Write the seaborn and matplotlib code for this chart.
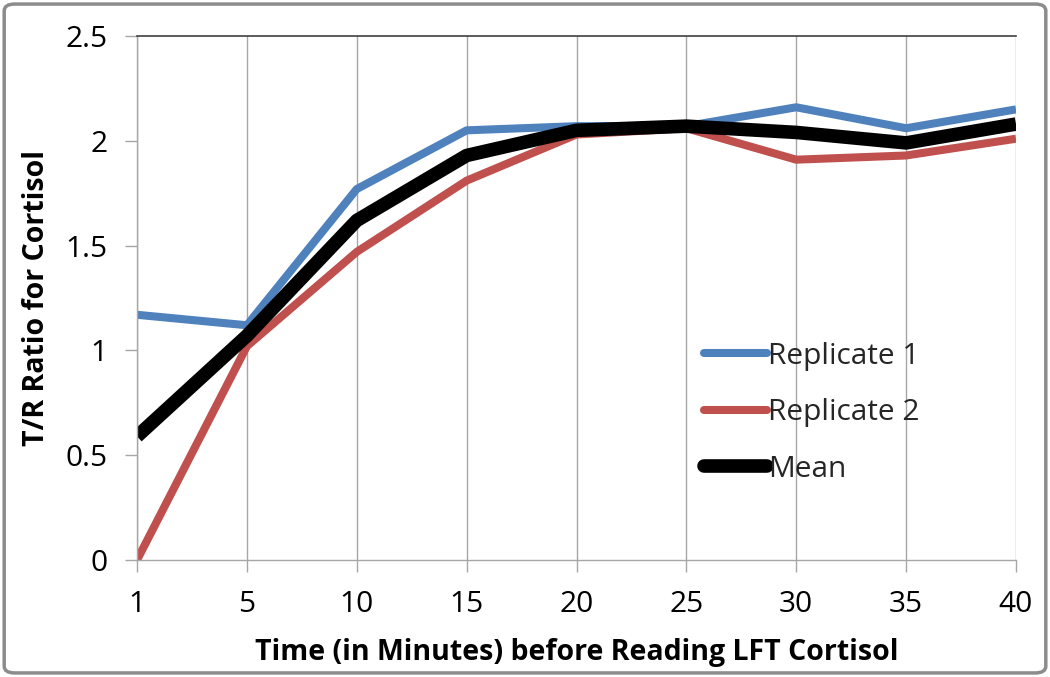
import pandas as pd
import matplotlib
matplotlib.use('Agg')
import matplotlib.pyplot as plt
import seaborn as sns
from matplotlib.patches import FancyBboxPatch

# values
times = ['1', '5', '10', '15', '20', '25', '30', '35', '40']
replicate_1 = [1.17, 1.12, 1.77, 2.05, 2.07, 2.07, 2.16, 2.06, 2.15]
replicate_2 = [0.0, 1.02, 1.47, 1.81, 2.03, 2.06, 1.91, 1.93, 2.01]
mean_vals = [0.59, 1.07, 1.62, 1.93, 2.05, 2.07, 2.04, 1.99, 2.08]

sns.set_theme(style='white')
plt.rcParams['font.family'] = ['Open Sans', 'DejaVu Sans']

df = pd.DataFrame({'time': times, 'Replicate 1': replicate_1,
                   'Replicate 2': replicate_2, 'Mean': mean_vals})

fig = plt.figure(figsize=(10.5, 6.77), dpi=100)
ax = fig.add_axes([0.1305, 0.1728, 0.8371, 0.774])

styles = {'Replicate 1': ('#4F81BD', 5.8),
          'Replicate 2': ('#C0504D', 5.8),
          'Mean': ('black', 9.8)}
for name, (col, lw) in styles.items():
    sns.lineplot(data=df, x='time', y=name, ax=ax, color=col, linewidth=lw,
                 label=name, sort=False, solid_capstyle='butt')

ax.set_xlim(0, len(times) - 1)
ax.set_ylim(0, 2.5)
ax.set_yticks([0, 0.5, 1, 1.5, 2, 2.5])
ax.set_yticklabels(['0', '0.5', '1', '1.5', '2', '2.5'])
ax.set_xticks(range(len(times)))
ax.set_xticklabels(times)
ax.xaxis.grid(True, color='#a6a6a6', linewidth=1.0)
ax.yaxis.grid(False)
ax.tick_params(axis='both', which='both', direction='out', length=8.5, width=1,
               color='#a6a6a6', labelsize=21.5, pad=13, left=True, bottom=True,
               labelcolor='black')
for side in ['left', 'bottom']:
    ax.spines[side].set_color('#a6a6a6')
    ax.spines[side].set_linewidth(1)
ax.spines['top'].set_color('#404040')
ax.spines['top'].set_linewidth(1.2)
ax.spines['right'].set_visible(False)

ax.set_xlabel('Time (in Minutes) before Reading LFT Cortisol',
              fontsize=20.5, fontweight='bold', labelpad=14, color='black')
ax.set_ylabel('T/R Ratio for Cortisol', fontsize=20.5, fontweight='bold',
              labelpad=10, color='black')

leg = ax.legend(loc='center left', bbox_to_anchor=(0.645, 0.281), frameon=False,
                fontsize=21.5, handlelength=2.1, handletextpad=0.05,
                labelspacing=0.92, borderaxespad=0, borderpad=0)
for line in leg.get_lines():
    line.set_solid_capstyle('round')

border = FancyBboxPatch((0.004, 0.006), 0.992, 0.988,
                        boxstyle='round,pad=0,rounding_size=0.01',
                        transform=fig.transFigure, fill=False,
                        edgecolor='#8c8c8c', linewidth=2.5)
fig.patches.append(border)

fig.savefig('out.png', dpi=100)
